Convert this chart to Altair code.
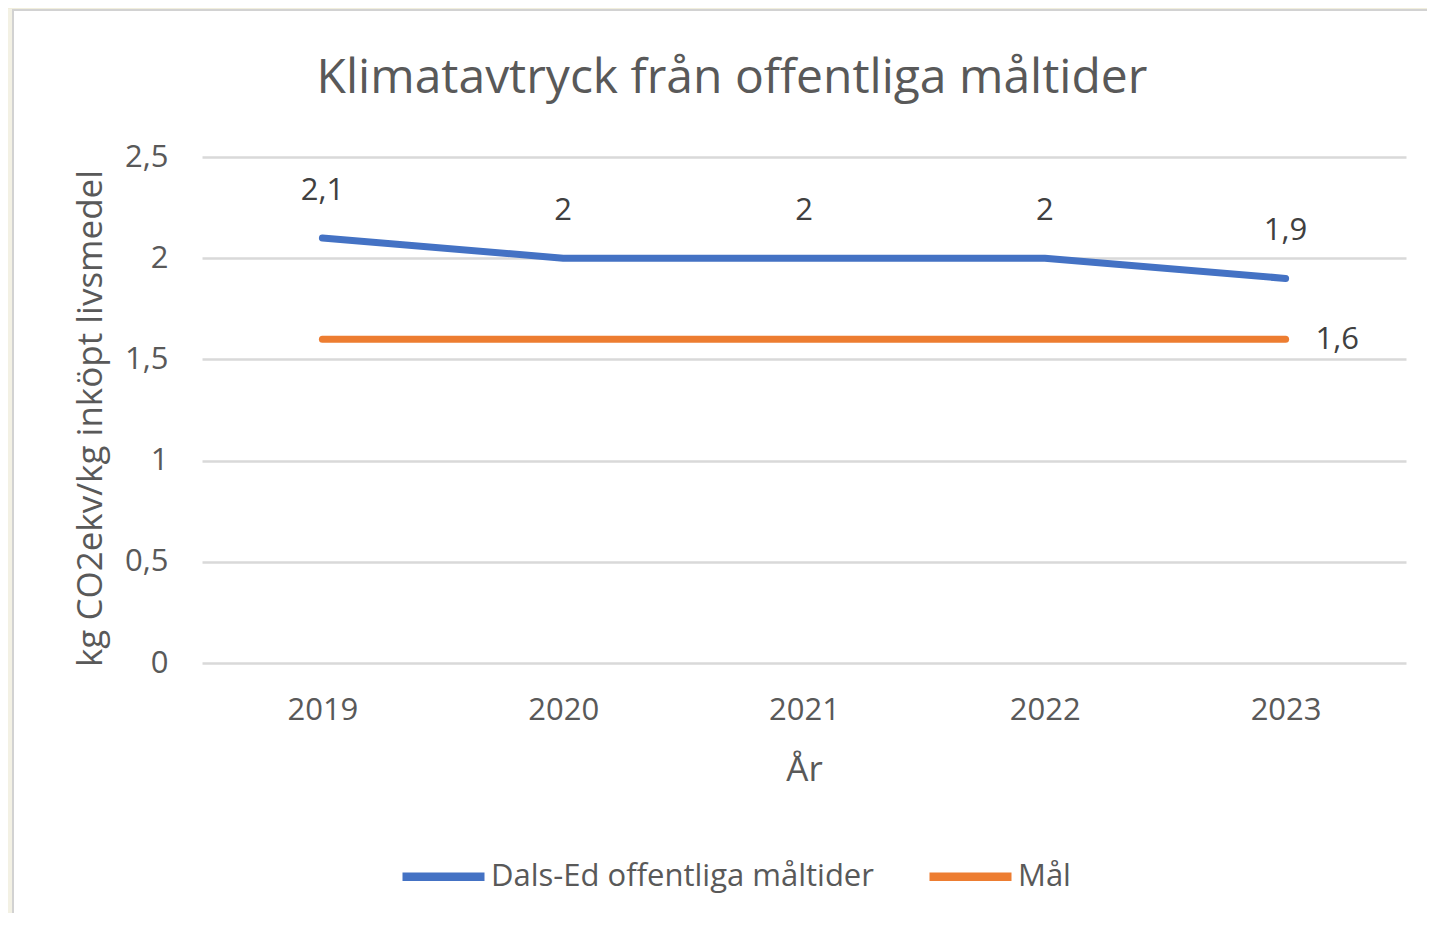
import altair as alt
import pandas as pd

years = ["2019", "2020", "2021", "2022", "2023"]
dalsed = [2.1, 2.0, 2.0, 2.0, 1.9]
target = [1.6, 1.6, 1.6, 1.6, 1.6]
series_names = ["Dals-Ed offentliga måltider", "Mål"]
colors = ["#4472c4", "#ed7d31"]
y_ticks = [0, 0.5, 1, 1.5, 2, 2.5]

title_text = "Klimatavtryck från offentliga måltider"
x_title = "År"
y_title = "kg CO2ekv/kg inköpt livsmedel"

FONT = "Open Sans"
W, H = 1204, 506

rows = []
for yr, v in zip(years, dalsed):
    rows.append({"year": yr, "value": v, "series": series_names[0]})
for yr, v in zip(years, target):
    rows.append({"year": yr, "value": v, "series": series_names[1]})
df = pd.DataFrame(rows)
df["label"] = df["value"].map(lambda v: f"{v:g}".replace(".", ","))

x_enc = alt.X(
    "year:O",
    sort=years,
    scale=alt.Scale(type="point", padding=0.5),
    axis=alt.Axis(
        title=x_title,
        labelAngle=0,
        labelFont=FONT,
        labelFontSize=31,
        labelColor="#595959",
        labelBaseline="middle",
        labelPadding=47,
        domain=False,
        ticks=False,
        grid=False,
        titleFont=FONT,
        titleFontSize=35,
        titleFontWeight="normal",
        titleColor="#595959",
        titleBaseline="alphabetic",
        titleY=117,
    ),
)
y_enc = alt.Y(
    "value:Q",
    scale=alt.Scale(domain=[0, 2.5], nice=False),
    axis=alt.Axis(
        title=y_title,
        values=y_ticks,
        labelExpr="replace(toString(datum.value), '.', ',')",
        labelFont=FONT,
        labelFontSize=31,
        labelColor="#595959",
        labelPadding=34,
        domain=False,
        ticks=False,
        grid=True,
        gridColor="#d9d9d9",
        gridWidth=2.5,
        titleFont=FONT,
        titleFontSize=35,
        titleFontWeight="normal",
        titleColor="#595959",
        titleAngle=-90,
        titleBaseline="middle",
        titleAlign="center",
        titleX=-112,
        titleY=261,
    ),
)
color_enc = alt.Color(
    "series:N",
    sort=series_names,
    scale=alt.Scale(domain=series_names, range=colors),
    legend=alt.Legend(
        title=None,
        orient="none",
        direction="horizontal",
        legendX=196,
        legendY=674,
        symbolType="stroke",
        symbolSize=6724,
        symbolStrokeWidth=8.5,
        labelFont=FONT,
        labelFontSize=31,
        labelColor="#595959",
        labelOffset=2,
        labelLimit=1000,
        columnPadding=38,
        padding=0,
    ),
)

one = pd.DataFrame({"a": [0]})
left_strip = alt.Chart(one).mark_rect(fill="#f3f1e4").encode(
    x=alt.value(-194), x2=alt.value(-190),
    y=alt.value(-149), y2=alt.value(H + 250),
)
top_strip = alt.Chart(one).mark_rect(fill="#f1eedc").encode(
    x=alt.value(-194), x2=alt.value(W + 21),
    y=alt.value(-149), y2=alt.value(-148),
)
border = alt.Chart(one).mark_rect(
    fill="white", fillOpacity=0, stroke="#d2d2d2", strokeWidth=2
).encode(
    x=alt.value(-189), x2=alt.value(W + 60),
    y=alt.value(-147), y2=alt.value(H + 300),
)

title = alt.Chart(pd.DataFrame({"t": [title_text]})).mark_text(
    font=FONT, fontSize=48, color="#595959", align="center", baseline="alphabetic"
).encode(x=alt.value(530), y=alt.value(-64), text="t:N")

base = alt.Chart(df)

lines = base.mark_line(strokeWidth=7, strokeCap="round", strokeJoin="round").encode(
    x=x_enc, y=y_enc, color=color_enc
)

labels_top = base.transform_filter(
    alt.datum.series == series_names[0]
).mark_text(font=FONT, fontSize=31, color="#404040", baseline="middle", dy=-47).encode(
    x=alt.X("year:O", sort=years), y="value:Q", text="label:N"
)

labels_target = base.transform_filter(
    (alt.datum.series == series_names[1]) & (alt.datum.year == years[-1])
).mark_text(font=FONT, fontSize=31, color="#404040", baseline="middle", align="left", dx=30, dy=1).encode(
    x=alt.X("year:O", sort=years), y="value:Q", text="label:N"
)

chart = alt.layer(left_strip, top_strip, border, title, lines, labels_top, labels_target).properties(
    width=W, height=H,
    background="white",
    padding={"left": 194, "top": 149, "right": 21, "bottom": 250},
    autosize=alt.AutoSizeParams(type="none"),
).configure_view(stroke=None)

chart.save("out.html", embed_options={"renderer": "svg", "actions": False})
